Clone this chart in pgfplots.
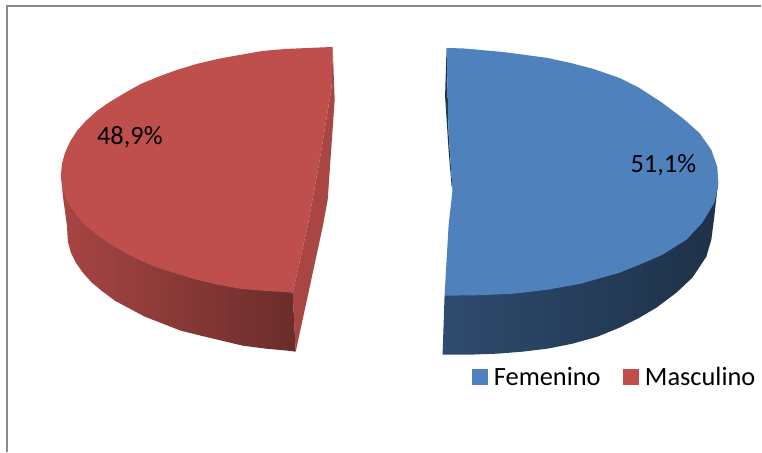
\documentclass[border=0pt]{standalone}
\usepackage{pgfplots}
\pgfplotsset{compat=1.18}
\usepackage{fontspec}
\setmainfont{Carlito}
\definecolor{azul}{HTML}{4F81BD}
\definecolor{rojo}{HTML}{BE4F4C}
\begin{document}
\begin{tikzpicture}
\begin{axis}[
	scale only axis,
	width=762bp,
	height=452bp,
	xmin=0, xmax=762,
	ymin=0, ymax=452,
	y dir=reverse,
	hide axis,
	clip=false,
	legend columns=2,
	legend cell align=left,
	legend image code/.code={\fill[#1] (0bp,-7.5bp) rectangle (15bp,7.5bp); \path (20bp,0bp);},
	legend style={
		at={(axis cs:472,377.5)}, anchor=west,
		draw=none, fill=none, inner sep=0pt, outer sep=0pt,
		font=\fontsize{26.5}{30}\selectfont,
		/tikz/every even column/.append style={column sep=20bp},
	},
]
	% page and frame
	\addplot[forget plot, draw=none, fill=white] coordinates {(0,0) (762,0) (762,452) (0,452) (0,0)};
	\addplot[forget plot, color=black!45, line width=1.5bp] coordinates {(7,452) (7,6) (762,6)};

	% Masculino, side and wall
	\addplot[forget plot, draw=none, fill=rojo!88!black] coordinates {
		(333,47) (335,100) (328,200) (323,227) (296,352) (293,293) (308,226) (320,160) (332,87) (333,47)};
	\addplot[forget plot, draw=none, left color=rojo!88!black, middle color=rojo!76!black, right color=rojo!56!black] coordinates {
		(61,175) (62,185) (63,197) (65,211) (67,226) (68,242) (71,253) (76,263) (83,273) (92,283) (103,292) (115,301) (130,309) (145,317)
		(163,324) (181,331) (201,336) (222,341) (243,346) (266,349) (288,351) (296,352) (293,293) (120,200) (61,175)};
	% Masculino, top
	\addplot[forget plot, draw=none, fill=rojo] coordinates {
		(333,47) (309,48) (286,49) (263,51) (240,55) (218,59) (197,64) (177,70) (158,77) (141,84) (125,93) (110,102) (97,111) (86,121)
		(77,131) (70,142) (65,153) (62,164) (61,175) (62,185) (65,196) (70,206) (77,216) (86,226) (97,235) (110,244) (125,253) (141,261)
		(158,268) (177,274) (197,280) (218,285) (240,289) (263,291) (280,292) (293,293) (308,226) (320,160) (332,87) (333,47)};

	% Femenino, side and wall
	\addplot[forget plot, draw=none, fill=azul!42!black] coordinates {
		(447,48) (445.5,96) (449,150) (452,186) (453,190) (449,133) (447,48)};
	\addplot[forget plot, draw=none, left color=azul!58!black, middle color=azul!42!black, right color=azul!38!black] coordinates {
		(719,183) (718,190) (716.5,203) (715,217) (712,240) (707,257) (693,278) (677,293) (657,308) (640,318) (620,328) (598,337)
		(573,344) (548,349) (523,352) (498,354) (470,355) (443,355) (445,296) (600,200) (719,183)};
	% Femenino, top
	\addplot[forget plot, draw=none, fill=azul] coordinates {
		(447,48) (464,48.5) (481,50) (503,52) (526,55) (548,58) (571,63) (594,69) (620,78) (640,88) (663,103) (683,118) (700,133)
		(712,150) (718,167) (719,183) (718,190) (715,203) (703,223) (687,240) (663,255) (640,265) (620,273) (581,284) (548,290)
		(514,294) (480,295.5) (445,296) (449,226) (453,190) (449,133) (447,48)};

	\addlegendimage{azul}
	\addlegendentry{Femenino}
	\addlegendimage{rojo}
	\addlegendentry{Masculino}

	\node[anchor=base west, inner sep=0pt, font=\fontsize{26.5}{30}\selectfont] at (axis cs:97,145) {48,9\%};
	\node[anchor=base west, inner sep=0pt, font=\fontsize{26.5}{30}\selectfont] at (axis cs:631,173) {51,1\%};
\end{axis}
\end{tikzpicture}
\end{document}
